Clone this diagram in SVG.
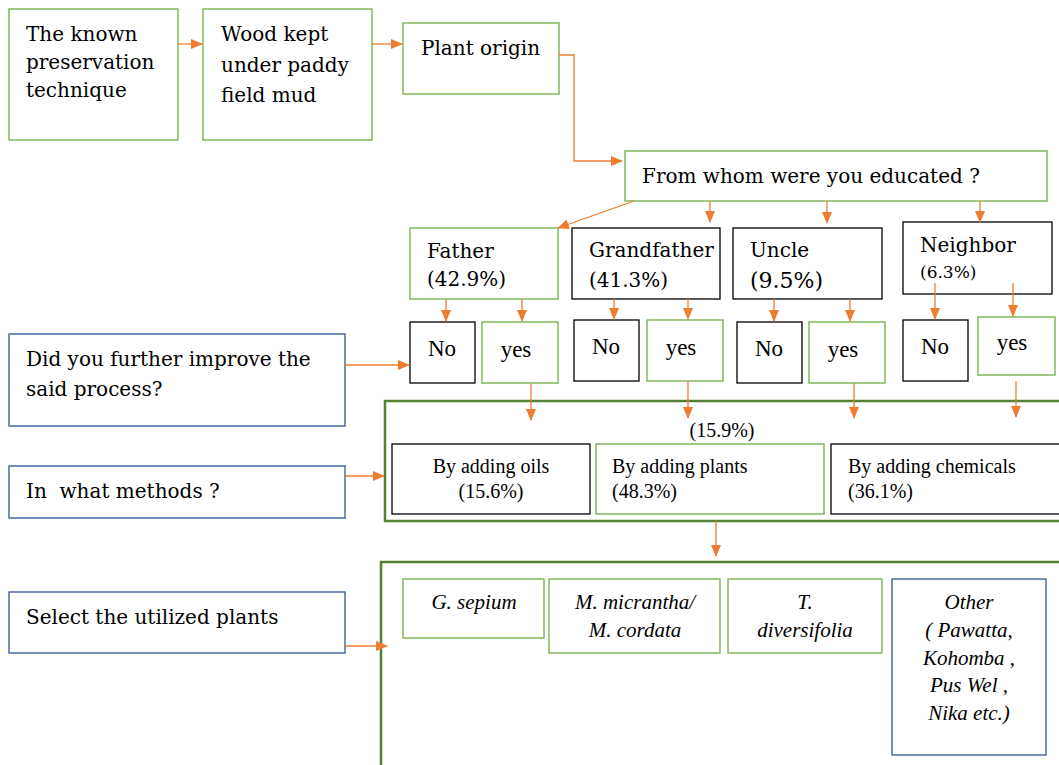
<svg xmlns="http://www.w3.org/2000/svg" width="1059" height="765" viewBox="0 0 1059 765">
<defs>
<marker id="ah" markerWidth="12" markerHeight="10" refX="11" refY="5" orient="auto" markerUnits="userSpaceOnUse">
<path d="M0,0 L12,5 L0,10 Z" fill="#ED7D31"/>
</marker>
</defs>
<style>
.g{fill:#fff;stroke:#70AD47;stroke-width:1.3}
.k{fill:#fff;stroke:#000;stroke-width:1.3}
.b{fill:#fff;stroke:#2F5597;stroke-width:1.3}
.c{fill:none;stroke:#548235;stroke-width:2.5}
.t{font-family:"DejaVu Serif",serif;font-size:20px;fill:#000}
.s{font-family:"Liberation Serif",serif;font-size:20px;fill:#000}
.n{font-family:"Liberation Serif",serif;font-size:23px;fill:#000}
.i{font-family:"Liberation Serif",serif;font-size:21px;font-style:italic;fill:#000;text-anchor:middle}
.m{text-anchor:middle}
#conn line,#conn polyline{stroke:#ED7D31;stroke-width:1.3;fill:none;marker-end:url(#ah)}
</style>
<rect width="1059" height="765" fill="#fff"/>

<g id="n-known"><rect class="g" x="9" y="9" width="169" height="131"/>
<text class="t" x="26" y="41">The known</text><text class="t" x="26" y="69">preservation</text><text class="t" x="26" y="97">technique</text></g>
<g id="n-wood"><rect class="g" x="203" y="9" width="169" height="131"/>
<text class="t" x="221" y="41">Wood kept</text><text class="t" x="221" y="72">under paddy</text><text class="t" x="221" y="102">field mud</text></g>
<g id="n-origin"><rect class="g" x="403" y="23" width="156" height="71"/>
<text class="t" x="421" y="55">Plant origin</text></g>
<g id="n-whom"><rect class="g" x="625" y="151" width="422" height="50"/>
<text class="t" x="642" y="183">From whom were you educated ?</text></g>

<g id="n-father"><rect class="g" x="410" y="228" width="148" height="71"/>
<text class="t" x="427" y="258">Father</text><text class="t" x="427" y="286">(42.9%)</text></g>
<g id="n-grand"><rect class="k" x="572" y="228" width="148" height="71"/>
<text class="t" x="589" y="257">Grandfather</text><text class="t" x="589" y="287">(41.3%)</text></g>
<g id="n-uncle"><rect class="k" x="733" y="228" width="149" height="71"/>
<text class="t" x="750" y="257">Uncle</text><text class="t" x="750" y="288" style="font-size:22px">(9.5%)</text></g>
<g id="n-neighbor"><rect class="k" x="903" y="222" width="149" height="72"/>
<text class="t" x="920" y="252">Neighbor</text><text class="t" x="920" y="278" style="font-size:17px">(6.3%)</text></g>

<g id="n-no1"><rect class="k" x="410" y="322" width="65" height="61"/><text class="n m" x="442" y="356">No</text></g>
<g id="n-yes1"><rect class="g" x="482" y="322" width="76" height="61"/><text class="n m" x="516" y="357">yes</text></g>
<g id="n-no2"><rect class="k" x="574" y="320" width="65" height="61"/><text class="n m" x="606" y="354">No</text></g>
<g id="n-yes2"><rect class="g" x="647" y="320" width="76" height="61"/><text class="n m" x="681" y="355">yes</text></g>
<g id="n-no3"><rect class="k" x="737" y="322" width="65" height="61"/><text class="n m" x="769" y="356">No</text></g>
<g id="n-yes3"><rect class="g" x="809" y="322" width="76" height="61"/><text class="n m" x="843" y="357">yes</text></g>
<g id="n-no4"><rect class="k" x="903" y="320" width="65" height="61"/><text class="n m" x="935" y="354">No</text></g>
<g id="n-yes4"><rect class="g" x="978" y="317" width="77" height="58"/><text class="n m" x="1012" y="350">yes</text></g>

<g id="n-q1"><rect class="b" x="9" y="334" width="336" height="92"/>
<text class="t" x="26" y="366">Did you further improve the</text><text class="t" x="26" y="396">said process?</text></g>
<g id="n-q2"><rect class="b" x="9" y="466" width="336" height="52"/>
<text class="t" x="26" y="498" xml:space="preserve">In  what methods ?</text></g>
<g id="n-q3"><rect class="b" x="9" y="592" width="336" height="61"/>
<text class="t" x="26" y="624">Select the utilized plants</text></g>

<g id="n-methods"><rect class="c" x="385" y="401" width="690" height="120"/>
<text class="s m" x="722" y="437">(15.9%)</text></g>
<g id="n-oils"><rect class="k" x="392" y="444" width="198" height="70"/>
<text class="s m" x="491" y="473">By adding oils</text><text class="s m" x="491" y="498">(15.6%)</text></g>
<g id="n-plants"><rect class="g" x="596" y="444" width="228" height="70"/>
<text class="s" x="612" y="473">By adding plants</text><text class="s" x="612" y="498">(48.3%)</text></g>
<g id="n-chem"><rect class="k" x="831" y="444" width="240" height="70"/>
<text class="s" x="848" y="473">By adding chemicals</text><text class="s" x="848" y="498">(36.1%)</text></g>

<g id="n-plantsel"><rect class="c" x="381" y="562" width="700" height="220"/></g>
<g id="n-gs"><rect class="g" x="403" y="579" width="141" height="59"/><text class="i" x="474" y="609">G. sepium</text></g>
<g id="n-mm"><rect class="g" x="549" y="579" width="171" height="74"/><text class="i" x="635" y="609">M. micrantha/</text><text class="i" x="635" y="637">M. cordata</text></g>
<g id="n-td"><rect class="g" x="728" y="579" width="154" height="74"/><text class="i" x="805" y="609">T.</text><text class="i" x="805" y="637">diversifolia</text></g>
<g id="n-other"><rect class="b" x="892" y="579" width="154" height="176"/>
<text class="i" x="969" y="609">Other</text><text class="i" x="969" y="637">( Pawatta,</text><text class="i" x="969" y="665">Kohomba ,</text><text class="i" x="969" y="692">Pus Wel ,</text><text class="i" x="969" y="720">Nika etc.)</text></g>

<g id="conn">
<line x1="178" y1="44" x2="202" y2="44"/>
<line x1="372" y1="44" x2="402" y2="44"/>
<polyline points="559,55 574,55 574,161 622,161"/>
<line x1="634" y1="201" x2="558" y2="228"/>
<line x1="710" y1="201" x2="710" y2="222"/>
<line x1="827" y1="201" x2="827" y2="223"/>
<line x1="980" y1="201" x2="980" y2="222"/>
<line x1="446" y1="299" x2="446" y2="321"/>
<line x1="522" y1="299" x2="522" y2="321"/>
<line x1="614" y1="299" x2="614" y2="319"/>
<line x1="688" y1="299" x2="688" y2="319"/>
<line x1="774" y1="299" x2="774" y2="321"/>
<line x1="850" y1="299" x2="850" y2="321"/>
<line x1="935" y1="283" x2="935" y2="319"/>
<line x1="1013" y1="283" x2="1013" y2="316"/>
<line x1="531" y1="383" x2="531" y2="420"/>
<line x1="688" y1="381" x2="688" y2="418"/>
<line x1="854" y1="383" x2="854" y2="418"/>
<line x1="1016" y1="381" x2="1016" y2="417"/>
<line x1="345" y1="365" x2="409" y2="365"/>
<line x1="345" y1="476" x2="384" y2="476"/>
<line x1="716" y1="521" x2="716" y2="556"/>
<line x1="345" y1="646" x2="387" y2="646"/>
</g>
</svg>
